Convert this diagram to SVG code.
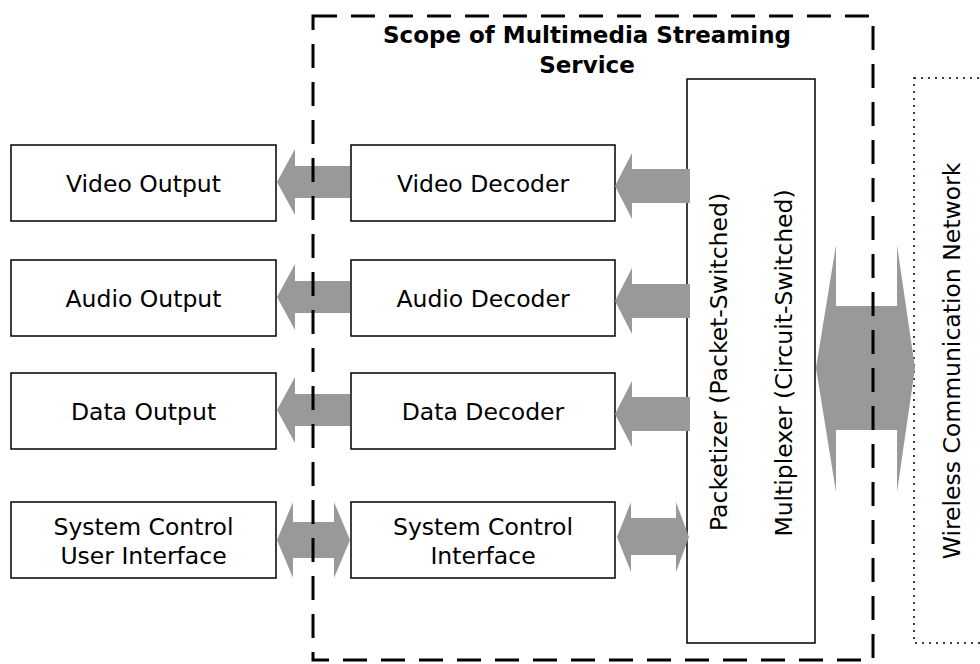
<svg xmlns="http://www.w3.org/2000/svg" width="980" height="664" viewBox="0 0 980 664">
<style>
.box{fill:#fff;stroke:#000;stroke-width:1.5}
.lbl{font-family:"DejaVu Sans","Liberation Sans",sans-serif;font-size:23.5px;fill:#000;text-anchor:middle}
.ttl{font-family:"DejaVu Sans","Liberation Sans",sans-serif;font-size:23px;font-weight:bold;fill:#000;text-anchor:middle}
.arr{fill:#999999;stroke:none}
.scope{fill:none;stroke:#000;stroke-width:3;stroke-dasharray:24 14}
.net{fill:none;stroke:#000;stroke-width:1.5;stroke-dasharray:2 5}
</style>
<rect width="980" height="664" fill="#fff"/>
<g id="wireless-network">
<rect class="net" x="914" y="78" width="90" height="565"/>
<text class="lbl" transform="translate(960,361) rotate(-90)">Wireless Communication Network</text>
</g>
<g id="packetizer-multiplexer">
<rect class="box" x="687" y="79" width="128" height="564"/>
<text class="lbl" transform="translate(727,362) rotate(-90)">Packetizer (Packet-Switched)</text>
<text class="lbl" transform="translate(792,363) rotate(-90)">Multiplexer (Circuit-Switched)</text>
</g>
<g id="video-output"><rect class="box" x="11" y="145" width="265" height="76"/><text class="lbl" x="143.5" y="192">Video Output</text></g>
<g id="audio-output"><rect class="box" x="11" y="260" width="265" height="76"/><text class="lbl" x="143.5" y="307">Audio Output</text></g>
<g id="data-output"><rect class="box" x="11" y="373" width="265" height="76"/><text class="lbl" x="143.5" y="420">Data Output</text></g>
<g id="system-control-ui"><rect class="box" x="11" y="502" width="265" height="76"/><text class="lbl" x="143.5" y="535">System Control</text><text class="lbl" x="143.5" y="564">User Interface</text></g>
<g id="video-decoder"><rect class="box" x="351" y="145" width="264" height="76"/><text class="lbl" x="483" y="192">Video Decoder</text></g>
<g id="audio-decoder"><rect class="box" x="351" y="260" width="264" height="76"/><text class="lbl" x="483" y="307">Audio Decoder</text></g>
<g id="data-decoder"><rect class="box" x="351" y="373" width="264" height="76"/><text class="lbl" x="483" y="420">Data Decoder</text></g>
<g id="system-control-interface"><rect class="box" x="351" y="502" width="264" height="76"/><text class="lbl" x="483" y="535">System Control</text><text class="lbl" x="483" y="564">Interface</text></g>
<g id="connectors">
<polygon class="arr" points="277,182 295,149 295,166 350,166 350,198 295,198 295,215"/>
<polygon class="arr" points="277,297 295,264 295,281 350,281 350,313 295,313 295,330"/>
<polygon class="arr" points="277,410 295,377 295,394 350,394 350,426 295,426 295,443"/>
<polygon class="arr" points="277,540 293,502 293,522 334,522 334,502 350,540 334,578 334,558 293,558 293,578"/>
<polygon class="arr" points="615,186 632,153 632,169 690,169 690,203 632,203 632,219"/>
<polygon class="arr" points="615,301 632,268 632,284 690,284 690,318 632,318 632,334"/>
<polygon class="arr" points="615,414 632,381 632,397 690,397 690,431 632,431 632,447"/>
<polygon class="arr" points="617,537 631,502 631,518 676,518 676,502 689,537 676,572 676,555 631,555 631,572"/>
<polygon class="arr" points="816,368 836,245 836,306 897,306 897,245 915,368 897,492 897,430 836,430 836,492"/>
</g>
<g id="scope-boundary">
<rect class="scope" x="313" y="16" width="560" height="644"/>
<text class="ttl" x="587" y="43">Scope of Multimedia Streaming</text>
<text class="ttl" x="587" y="73">Service</text>
</g>
</svg>
